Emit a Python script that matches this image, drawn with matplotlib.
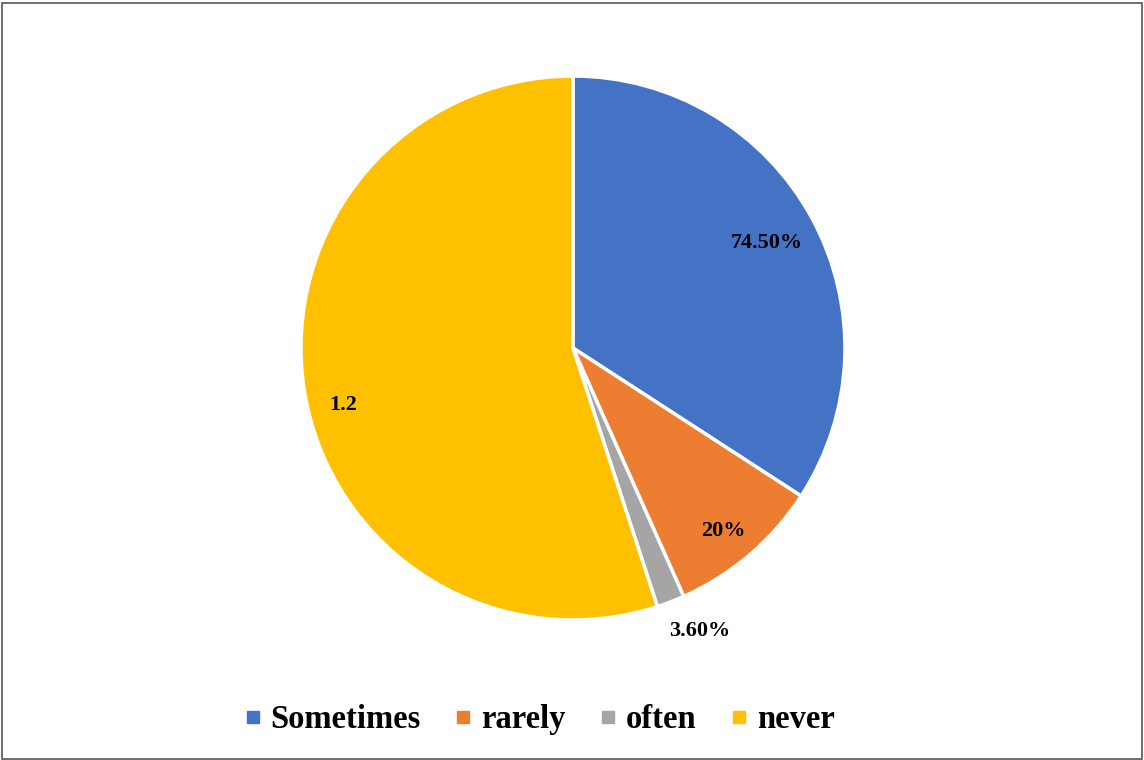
import matplotlib.pyplot as plt
from matplotlib.lines import Line2D
from matplotlib.patches import Rectangle
import numpy as np

categories = ["Sometimes", "rarely", "often", "never"]
values = [0.745, 0.2, 0.036, 1.2]
value_labels = ["74.50%", "20%", "3.60%", "1.2"]
colors = ["#4472C4", "#ED7D31", "#A5A5A5", "#FFC000"]
label_dist = [0.81, 0.87, 1.14, 0.87]
label_shift = [0, -1, 3, 5]   # degrees, nudges labels off the mid angle

plt.rcParams['font.family'] = ['Liberation Serif', 'DejaVu Serif']

fig = plt.figure(figsize=(11.44, 7.6), dpi=100)
ax = fig.add_axes([0.2631, 0.1842, 0.4755, 0.7158])

wedges, _ = ax.pie(values, colors=colors, startangle=90, counterclock=False,
                   radius=1, wedgeprops=dict(edgecolor="white", linewidth=2.5))
ax.set_xlim(-1, 1)
ax.set_ylim(-1, 1)
ax.set_aspect("equal")
ax.axis("off")

# value labels around the middle angle of each wedge
for w, lab, d, s in zip(wedges, value_labels, label_dist, label_shift):
    ang = np.deg2rad((w.theta1 + w.theta2) / 2 + s)
    ax.text(d * np.cos(ang), d * np.sin(ang), lab, ha="center", va="center",
            fontsize=16, fontweight="bold", clip_on=False)

handles = [Line2D([], [], marker="s", linestyle="none", markersize=9,
                  markerfacecolor=c, markeredgecolor=c) for c in colors]
fig.legend(handles, categories, loc="center", bbox_to_anchor=(0.471, 0.053),
           ncol=4, frameon=False, prop=dict(size=23.5, weight="bold"),
           handlelength=0.6, handletextpad=0.25, columnspacing=1.0)

# outer frame
fig.patches.append(Rectangle((0.0015, 0.001), 0.997, 0.995, transform=fig.transFigure,
                             fill=False, edgecolor="#555555", linewidth=1.2))

fig.savefig("out.png", dpi=100)
